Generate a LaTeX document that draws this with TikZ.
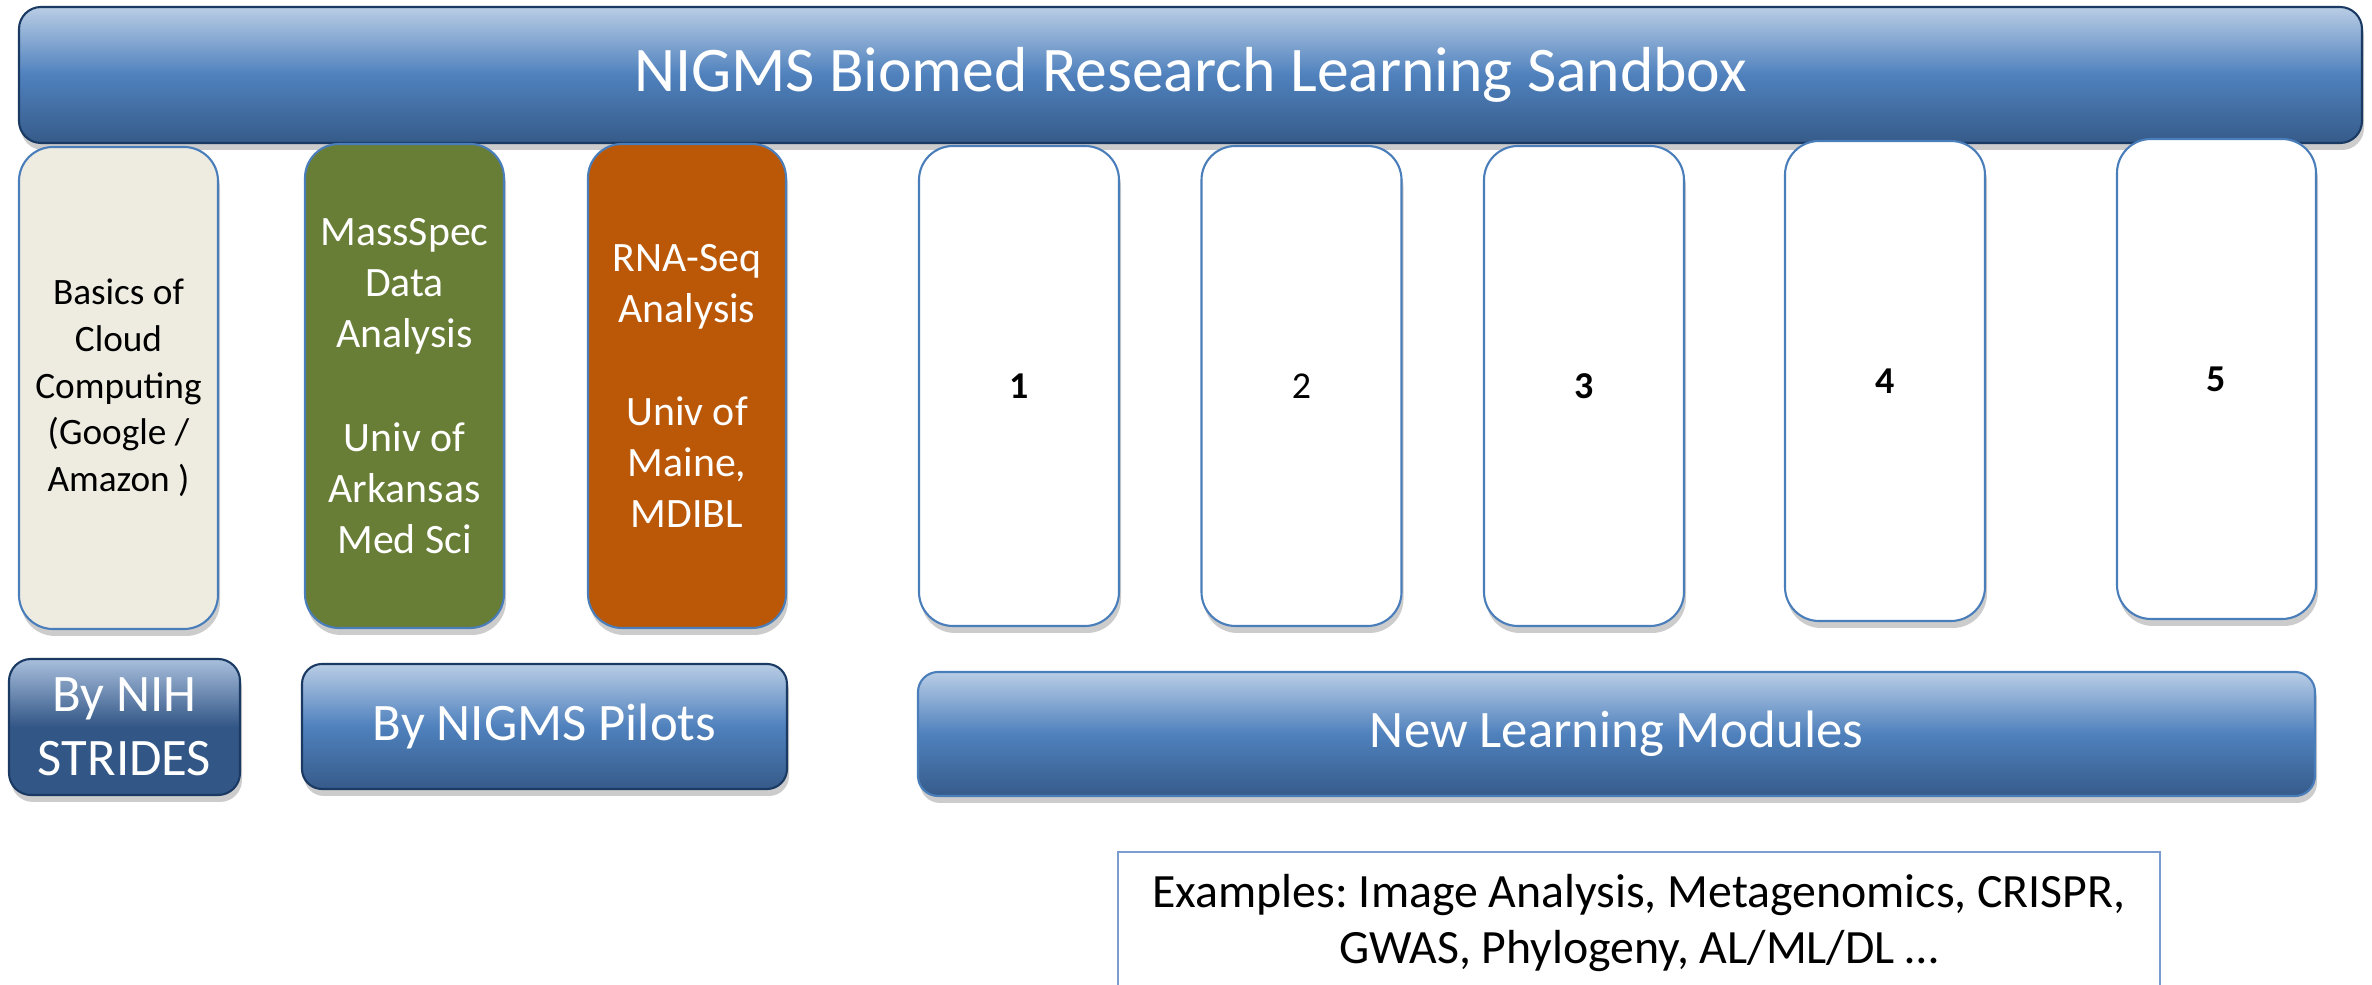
\documentclass[tikz,border=0pt]{standalone}
\usepackage{fontspec}
\setmainfont{Carlito}
\frenchspacing
\usepackage{tikz}
\usetikzlibrary{shapes,positioning,calc}
\usetikzlibrary{shadows}
\definecolor{bandtop}{HTML}{B9CDE5}
\definecolor{bandmid}{HTML}{4F81BD}
\definecolor{bandbot}{HTML}{365B8A}
\definecolor{bandline}{HTML}{1B3A63}
\definecolor{cardline}{HTML}{4A7EBB}
\definecolor{cloudfill}{HTML}{EEECE1}
\definecolor{massfill}{HTML}{687D35}
\definecolor{rnafill}{HTML}{BB5808}
\definecolor{stridestop}{HTML}{A9BFDD}
\definecolor{stridesbot}{HTML}{325686}
\definecolor{exline}{HTML}{7A9CCF}
\tikzstyle{ombra} = [drop shadow={shadow xshift=0.02cm, shadow yshift=-0.07cm, opacity=0.2, fill=black}]
\tikzstyle{band} = [rectangle, rounded corners=0.22cm, draw=bandline, line width=0.6pt, 
top color=bandtop, bottom color=bandbot, middle color=bandmid, text=white, ombra]
\tikzstyle{card} = [rectangle, rounded corners=0.34cm, draw=cardline, line width=0.6pt, 
minimum width=1.99cm, minimum height=4.82cm, inner sep=0pt, align=center, ombra]
\tikzstyle{modcard} = [card, fill=white, minimum width=2cm, minimum height=4.8cm, 
font=\fontsize{10.8}{13}\selectfont]
\tikzstyle{bandtext} = [font=\fontsize{15}{18.2}\selectfont, align=center]

\begin{document}
\begin{tikzpicture}
	\useasboundingbox (0,0) rectangle (23.72,-9.85);
	% top banner
	\node (sandbox) at (11.905,-0.75) [band, minimum width=23.43cm, minimum height=1.36cm, 
	font=\fontsize{18.1}{21.8}\selectfont] {NIGMS Biomed Research Learning Sandbox};
	% existing modules
	\node (cloud) at (1.185,-3.88) [card, fill=cloudfill, font=\fontsize{10.6}{13.3}\selectfont] 
	{Basics of\\Cloud\\Computing\\(Google /\\Amazon )};
	\node (mass) at (4.045,-3.86) [card, fill=massfill, text=white, minimum height=4.84cm, 
	font=\fontsize{11.9}{14.5}\selectfont] {MassSpec\\Data\\Analysis\\[15pt]Univ of\\Arkansas\\Med Sci};
	\node (rna) at (6.87,-3.86) [card, fill=rnafill, text=white, minimum width=1.98cm, minimum height=4.84cm, 
	font=\fontsize{11.9}{14.5}\selectfont] {RNA-Seq\\Analysis\\[15pt]Univ of\\Maine,\\MDIBL};
	% new modules
	\node (m1) at (10.19,-3.86) [modcard] {\textbf{1}};
	\node (m2) at (13.015,-3.86) [modcard] {2};
	\node (m3) at (15.84,-3.86) [modcard] {\textbf{3}};
	\node (m4) at (18.85,-3.81) [modcard] {\textbf{4}};
	\node (m5) at (22.165,-3.79) [modcard, minimum width=1.99cm] {\textbf{5}};
	% groups
	\node (strides) at (1.245,-7.27) [band, bandtext, rounded corners=0.22cm, top color=stridestop, 
	bottom color=stridesbot, middle color=stridesbot, minimum width=2.31cm, minimum height=1.36cm] 
	{By NIH\\STRIDES};
	\node (pilots) at (5.445,-7.265) [band, bandtext, rounded corners=0.2cm, minimum width=4.85cm, 
	minimum height=1.25cm] {By NIGMS Pilots};
	\node (newmods) at (16.165,-7.34) [band, bandtext, rounded corners=0.2cm, draw=cardline, 
	minimum width=13.97cm, minimum height=1.24cm] {New Learning Modules};
	% examples
	\node (examples) at (16.39,-9.23) [rectangle, draw=exline, line width=0.5pt, fill=white, 
	minimum width=10.42cm, minimum height=1.42cm, align=center, font=\fontsize{13.6}{16}\selectfont] 
	{Examples: Image Analysis, Metagenomics, CRISPR,\\GWAS, Phylogeny, AL/ML/DL …};
\end{tikzpicture}
\end{document}
